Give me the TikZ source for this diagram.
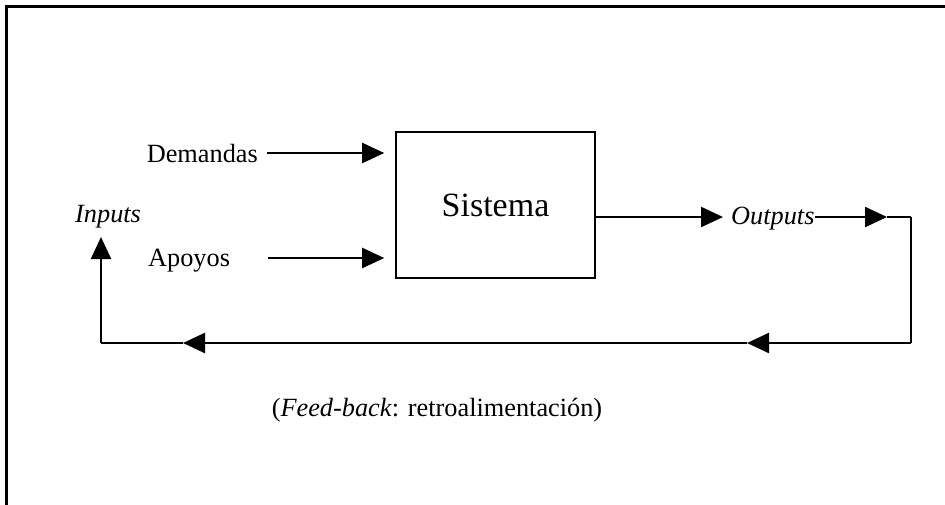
\documentclass[tikz,border=0pt]{standalone}
\usepackage{fontspec}
\setmainfont{Liberation Serif}
\usetikzlibrary{arrows.meta}
\begin{document}
\begin{tikzpicture}[x=1pt,y=-1pt,
  lbl/.style={inner sep=0pt,font=\fontsize{26.3}{29}\selectfont},
  arr/.style={line width=2.4pt,-{Triangle[length=22pt,width=20pt]}},
  ln/.style={line width=2.4pt},
  thinln/.style={line width=1.6pt}]
\useasboundingbox (0,0) rectangle (945,504);
\draw[line width=2.8pt] (6.5,520) -- (6.5,6.5) -- (960,6.5);
\node[draw,line width=1.6pt,minimum width=199pt,minimum height=146pt,inner sep=0pt,
  font=\fontsize{34}{38}\selectfont] (sys) at (495.5,205) {Sistema};
\node[lbl,anchor=east] (dem) at (258,153) {Demandas};
\node[lbl,anchor=west] (apo) at (148,261) {Apoyos};
\node[lbl,anchor=west,font=\fontsize{26.3}{29}\selectfont\itshape] (inp) at (75,217) {Inputs};
\node[lbl,anchor=west,font=\fontsize{26.3}{29}\selectfont\itshape] (out) at (731,219) {Outputs};
\node[lbl] (fb) at (437,410) {(\textit{Feed-back}: retroalimentación)};
\coordinate (o1) at (887,217);
\coordinate (o2) at (911,217);
\coordinate (r1) at (911,343);
\coordinate (m1) at (747,343);
\coordinate (m2) at (183,343);
\coordinate (l1) at (101,343);
\coordinate (t1) at (101,237);
\draw[arr,shorten >=11pt] (267,153) -- (sys.west |- 0,153);
\draw[arr,shorten >=11pt] (268,258) -- (sys.west |- 0,258);
\draw[arr] (sys.east |- 0,217) -- (723,217);
\draw[arr] (out.east |- o1) -- (o1);
\draw[thinln] (o1) -- (o2);
\draw[ln] (o2) -- (r1);
\draw[arr] (r1) -- (m1);
\draw[arr] (m1) -- (m2);
\draw[thinln] (m2) -- (l1);
\draw[arr] (l1) -- (t1);
\end{tikzpicture}
\end{document}
